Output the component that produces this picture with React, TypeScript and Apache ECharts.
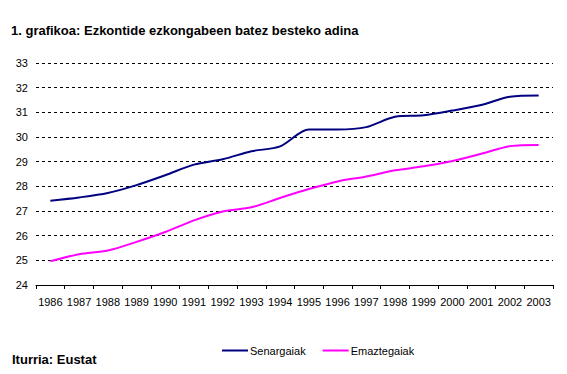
import React, { useEffect, useRef } from "react";
import * as echarts from "echarts";

const years = ["1986","1987","1988","1989","1990","1991","1992","1993","1994","1995","1996","1997","1998","1999","2000","2001","2002","2003"];
const senargaiak = [27.42, 27.55, 27.73, 28.05, 28.45, 28.88, 29.1, 29.42, 29.62, 30.3, 30.3, 30.4, 30.82, 30.88, 31.07, 31.3, 31.63, 31.68];
const emaztegaiak = [24.96, 25.25, 25.4, 25.75, 26.15, 26.62, 26.98, 27.15, 27.53, 27.89, 28.2, 28.4, 28.65, 28.81, 29.03, 29.32, 29.63, 29.68];
const titleText = "1. grafikoa: Ezkontide ezkongabeen batez besteko adina";
const sourceText = "Iturria: Eustat";

export default function App() {
  const ref = useRef<HTMLDivElement>(null);
  useEffect(() => {
    if (!ref.current) return;
    const chart = echarts.init(ref.current, null, { renderer: "svg" });
    const font = "'Liberation Sans', Arial, sans-serif";
    chart.setOption({
      animation: false,
      backgroundColor: "#ffffff",
      textStyle: { fontFamily: font },
      title: [
        { text: titleText, left: 6, top: 19, textStyle: { fontSize: 13, fontWeight: "bold", color: "#000", fontFamily: font } },
        { text: sourceText, left: 7, top: 348, textStyle: { fontSize: 13, fontWeight: "bold", color: "#000", fontFamily: font } },
      ],
      legend: {
        left: 217,
        top: 340,
        itemWidth: 26,
        itemHeight: 2,
        itemGap: 17,
        icon: "rect",
        textStyle: { fontSize: 11, color: "#000", fontFamily: font, padding: [0, 0, 0, -3] },
        data: ["Senargaiak", "Emaztegaiak"],
      },
      grid: { left: 36, right: 14, top: 63, bottom: 89, containLabel: false },
      xAxis: {
        type: "category",
        data: years,
        boundaryGap: true,
        axisLine: { lineStyle: { color: "#000", width: 1 } },
        axisTick: { show: true, alignWithLabel: false, length: 4, lineStyle: { color: "#000" } },
        axisLabel: { color: "#000", fontSize: 11, margin: 11, interval: 0, fontFamily: font },
      },
      yAxis: {
        type: "value",
        min: 24,
        max: 33,
        interval: 1,
        axisLine: { show: false },
        axisTick: { show: false },
        axisLabel: { color: "#000", fontSize: 11, margin: 8, fontFamily: font },
        splitLine: { show: true, lineStyle: { color: "#000", type: [3, 3], width: 1 } },
      },
      series: [
        {
          name: "Senargaiak",
          type: "line",
          data: senargaiak,
          smooth: 0.3,
          showSymbol: false,
          symbol: "none",
          itemStyle: { color: "#000080" },
          lineStyle: { color: "#000080", width: 2 },
        },
        {
          name: "Emaztegaiak",
          type: "line",
          data: emaztegaiak,
          smooth: 0.3,
          showSymbol: false,
          symbol: "none",
          itemStyle: { color: "#ff00ff" },
          lineStyle: { color: "#ff00ff", width: 2 },
        },
      ],
    });
    return () => chart.dispose();
  }, []);
  return <div ref={ref} style={{ width: 567, height: 374, position: "fixed", left: 0, top: 0 }} />;
}
